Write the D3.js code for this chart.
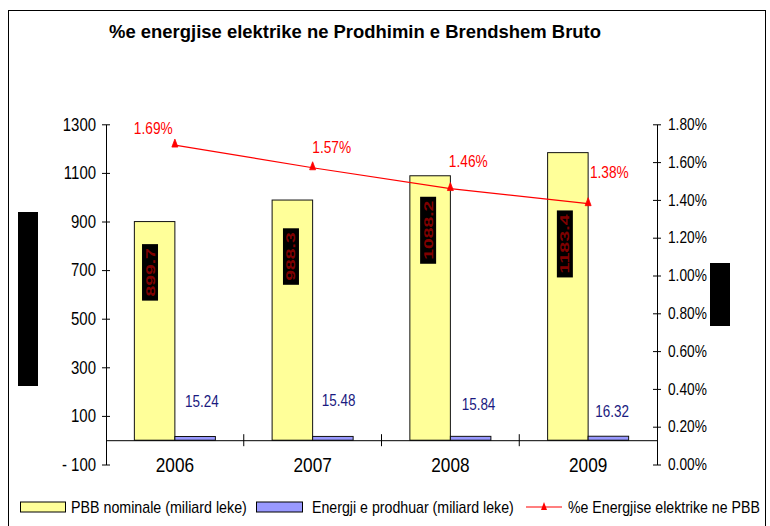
<!DOCTYPE html>
<html><head><meta charset="utf-8">
<script src="https://cdn.jsdelivr.net/npm/d3@7"></script>
<style>
html,body{margin:0;padding:0;background:#fff;}
svg{display:block;font-family:"Liberation Sans",Arial,sans-serif;}
</style></head>
<body>
<svg id="chart" width="770" height="526"></svg>
<script>
// ---- data ----
const years = ["2006", "2007", "2008", "2009"];
const pbbNominal = [899.7, 988.3, 1088.2, 1183.4];      // PBB nominale (miliard leke)
const energyProduced = [15.24, 15.48, 15.84, 16.32];    // Energji e prodhuar (miliard leke)
const energyShare = [0.0169, 0.0157, 0.0146, 0.0138];   // %e Energjise elektrike ne PBB
const leftTicks = [-100, 100, 300, 500, 700, 900, 1100, 1300];
const rightTicks = [0, 0.002, 0.004, 0.006, 0.008, 0.010, 0.012, 0.014, 0.016, 0.018];
const titleText = "%e energjise elektrike ne Prodhimin e Brendshem Bruto";
const legendLabels = ["PBB nominale (miliard leke)", "Energji e prodhuar (miliard leke)", "%e Energjise elektrike ne PBB"];

// ---- label placement (style) ----
const shareLabelOffset = [[-21.6, -16.7], [19.1, -20.7], [17.9, -27.2], [21.2, -31.8]];
const energyLabelOffset = [[6.7, -35], [5.7, -36], [7.9, -32], [3.7, -25]];
const pbbLabelOffset = [[-4.6, 50.8], [-1.4, 56.5], [-2, 54.5], [-3, 91.3]];

const YELLOW = "#FFFF99", BLUE = "#9999FF", RED = "#FF0000", NAVY = "#1a1a80";

const svg = d3.select("#chart");

function narrow(sel, f) {
  sel.each(function () {
    const len = this.getComputedTextLength();
    d3.select(this).attr("textLength", len * f).attr("lengthAdjust", "spacingAndGlyphs");
  });
}

// outer border
svg.append("rect").attr("x", 8.5).attr("y", 10.5).attr("width", 757).attr("height", 530)
  .attr("fill", "none").attr("stroke", "#000").attr("stroke-width", 1);

// title
svg.append("text").attr("x", 355).attr("y", 31).attr("dy", "0.35em")
  .attr("text-anchor", "middle").attr("font-weight", "bold").attr("font-size", 19)
  .attr("textLength", 492).attr("lengthAdjust", "spacingAndGlyphs").text(titleText);

// scales
const x = d3.scaleBand().domain(years).range([106, 657]).paddingInner(0).paddingOuter(0);
const xs = d3.scaleBand().domain(["pbb", "energy"]).range([0, x.bandwidth()]).paddingInner(0).paddingOuter(0.7);
const yL = d3.scaleLinear().domain([-100, 1300]).range([464.5, 124.3]);
const yR = d3.scaleLinear().domain([0, 0.018]).range([464.5, 124.3]);

// left axis
const gL = svg.append("g").attr("transform", "translate(106,0)")
  .call(d3.axisLeft(yL).tickValues(leftTicks).tickFormat(d3.format("d")).tickSizeInner(4).tickSizeOuter(0).tickPadding(6));
gL.select(".domain").attr("stroke", "#000");
gL.selectAll(".tick line").attr("x1", 4).attr("stroke", "#000");
gL.selectAll(".tick text").attr("font-size", 18).attr("fill", "#000")
  .attr("font-family", "Liberation Sans, Arial, sans-serif").text(d => d < 0 ? "- " + Math.abs(d) : d);
narrow(gL.selectAll(".tick text"), 0.83);

// right axis
const gR = svg.append("g").attr("transform", "translate(657,0)")
  .call(d3.axisRight(yR).tickValues(rightTicks).tickFormat(d3.format(".2%")).tickSizeInner(4).tickSizeOuter(0).tickPadding(7));
gR.select(".domain").attr("stroke", "#000");
gR.selectAll(".tick line").attr("x1", -4).attr("stroke", "#000");
gR.selectAll(".tick text").attr("font-size", 16.5).attr("fill", "#000")
  .attr("font-family", "Liberation Sans, Arial, sans-serif");
narrow(gR.selectAll(".tick text"), 0.83);

// black boxes (axis titles)
svg.append("rect").attr("x", 18).attr("y", 212).attr("width", 20).attr("height", 174).attr("fill", "#000");
svg.append("rect").attr("x", 710).attr("y", 263).attr("width", 20).attr("height", 63).attr("fill", "#000");

// bars
const groups = svg.append("g").selectAll("g").data(years).join("g")
  .attr("transform", d => `translate(${x(d)},0)`);
groups.append("rect")
  .attr("x", xs("pbb")).attr("width", xs.bandwidth())
  .attr("y", (d, i) => yL(pbbNominal[i])).attr("height", (d, i) => yL(0) - yL(pbbNominal[i]))
  .attr("fill", YELLOW).attr("stroke", "#111").attr("stroke-width", 1);
groups.append("rect")
  .attr("x", xs("energy")).attr("width", xs.bandwidth())
  .attr("y", (d, i) => yL(energyProduced[i])).attr("height", (d, i) => yL(0) - yL(energyProduced[i]))
  .attr("fill", BLUE).attr("stroke", "#111").attr("stroke-width", 1);

// x axis line + boundary ticks
const y0 = yL(0);
const gX = svg.append("g").attr("transform", `translate(0,${y0})`)
  .call(d3.axisBottom(x).tickSize(0).tickPadding(18).tickSizeOuter(0));
gX.select(".domain").attr("stroke", "#000");
gX.selectAll(".tick text").attr("font-size", 20).attr("fill", "#000")
  .attr("font-family", "Liberation Sans, Arial, sans-serif");
narrow(gX.selectAll(".tick text"), 0.86);
gX.selectAll(".bound").data(years.slice(1)).join("line").attr("class", "bound")
  .attr("x1", d => x(d)).attr("x2", d => x(d)).attr("y1", -6).attr("y2", 6).attr("stroke", "#000");

// PBB rotated labels (black box, dark red text)
groups.each(function (d, i) {
  const g = d3.select(this);
  const s = pbbNominal[i].toFixed(1);
  const h = s.length * 10.5 + 4;
  const cx = xs("pbb") + xs.bandwidth() / 2 + pbbLabelOffset[i][0];
  const cy = yL(pbbNominal[i]) + pbbLabelOffset[i][1];
  g.append("rect").attr("x", cx - 8).attr("y", cy - h / 2).attr("width", 16).attr("height", h).attr("fill", "#000");
  g.append("text").attr("transform", `translate(${cx},${cy}) rotate(-90)`)
    .attr("text-anchor", "middle").attr("dy", "0.36em").attr("font-size", 12.5).attr("font-weight", "bold")
    .attr("fill", "#800000").attr("textLength", h - 8).attr("lengthAdjust", "spacingAndGlyphs").text(s);
});

// energy labels
groups.append("text")
  .attr("x", (d, i) => xs("energy") + xs.bandwidth() / 2 + energyLabelOffset[i][0])
  .attr("y", (d, i) => yL(energyProduced[i]) + energyLabelOffset[i][1])
  .attr("dy", "0.35em").attr("text-anchor", "middle").attr("font-size", 16).attr("fill", NAVY)
  .text((d, i) => energyProduced[i].toFixed(2))
  .call(narrow, 0.84);

// share line
const pts = years.map((d, i) => [x(d) + x.bandwidth() / 2, yR(energyShare[i])]);
svg.append("path").datum(pts).attr("d", d3.line()).attr("fill", "none").attr("stroke", RED).attr("stroke-width", 1.2);
const tri = "M0,-6L3,2L-3,2Z";
svg.append("g").selectAll("path").data(pts).join("path")
  .attr("transform", p => `translate(${p[0]},${p[1]})`).attr("d", tri).attr("fill", RED).attr("stroke", RED).attr("stroke-width", 0.8);
svg.append("g").selectAll("text").data(pts).join("text")
  .attr("x", (p, i) => p[0] + shareLabelOffset[i][0]).attr("y", (p, i) => p[1] + shareLabelOffset[i][1])
  .attr("dy", "0.35em").attr("text-anchor", "middle").attr("font-size", 16.5).attr("fill", RED)
  .text((p, i) => d3.format(".2%")(energyShare[i]))
  .call(narrow, 0.83);

// legend (text squeezed horizontally with a scale transform)
const lg = svg.append("g");
const ly = 507;
function legendText(x0, target, s) {
  const t = lg.append("text").attr("x", 0).attr("y", 0).attr("dy", "0.35em").attr("font-size", 16).text(s);
  const len = t.node().getComputedTextLength();
  t.attr("transform", `translate(${x0},${ly}) scale(${target / len},1)`);
}
lg.append("rect").attr("x", 20.5).attr("y", ly - 5).attr("width", 45).attr("height", 10).attr("fill", YELLOW).attr("stroke", "#000");
legendText(71, 176, legendLabels[0]);
lg.append("rect").attr("x", 256.5).attr("y", ly - 5).attr("width", 46).attr("height", 10).attr("fill", BLUE).attr("stroke", "#000");
legendText(312, 202, legendLabels[1]);
lg.append("line").attr("x1", 526).attr("x2", 562).attr("y1", ly).attr("y2", ly).attr("stroke", RED).attr("stroke-width", 1.2);
lg.append("path").attr("transform", `translate(544,${ly + 1})`).attr("d", tri).attr("fill", RED);
legendText(568, 192, legendLabels[2]);
</script>
</body></html>
